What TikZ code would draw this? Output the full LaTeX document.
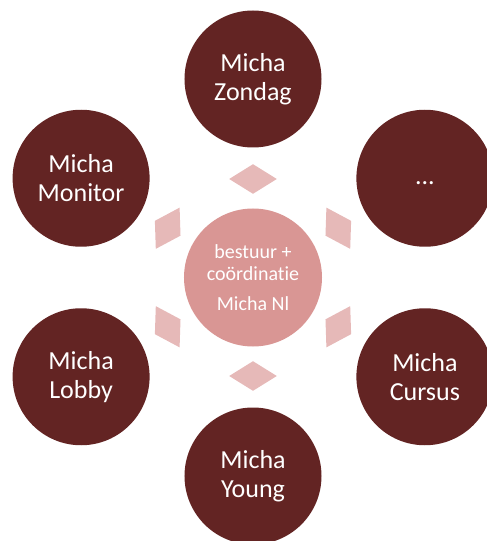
\documentclass[tikz,border=0pt]{standalone}
\usepackage{fontspec}
\setmainfont{Carlito}[Ligatures={NoCommon}]
\definecolor{darkc}{HTML}{632423}
\definecolor{centc}{HTML}{D99694}
\definecolor{diamc}{HTML}{E6B9B8}
\begin{document}
\begin{tikzpicture}[x=1pt,y=1pt,
  outer/.style={circle,fill=darkc,minimum size=137pt,inner sep=0pt,text=white,align=center,
    font=\fontsize{26}{29}\selectfont},
  center/.style={circle,fill=centc,minimum size=138pt,inner sep=0pt,text=white,align=center,
    font=\fontsize{20}{21.7}\selectfont},
  dia/.style={fill=diamc}]
\useasboundingbox (-253,-263.5) rectangle (234,277.5);
\clip (-253,-263.5) rectangle (234,277.5);
\node[center] (c) at (0,0) {bestuur +\\coördinatie\\[8.3pt]Micha Nl};
\node[outer] (zondag) at (90:198.5) {Micha\\Zondag};
\node[outer] (dots) at (30:198.5) {\vphantom{Mg}...};
\node[outer] (cursus) at (-30:198.5) {Micha\\Cursus};
\node[outer] (young) at (-90:198.5) {Micha\\Young};
\node[outer] (lobby) at (-150:198.5) {Micha\\Lobby};
\node[outer] (monitor) at (150:198.5) {Micha\\Monitor};
\foreach \a in {90,30,-30,-90,-150,150}{
  \begin{scope}[shift={(\a:98.5)},rotate=\a]
    \fill[dia] (14.8,0) -- (0,23.8) -- (-14.8,0) -- (0,-23.8) -- cycle;
  \end{scope}
}
\end{tikzpicture}
\end{document}
